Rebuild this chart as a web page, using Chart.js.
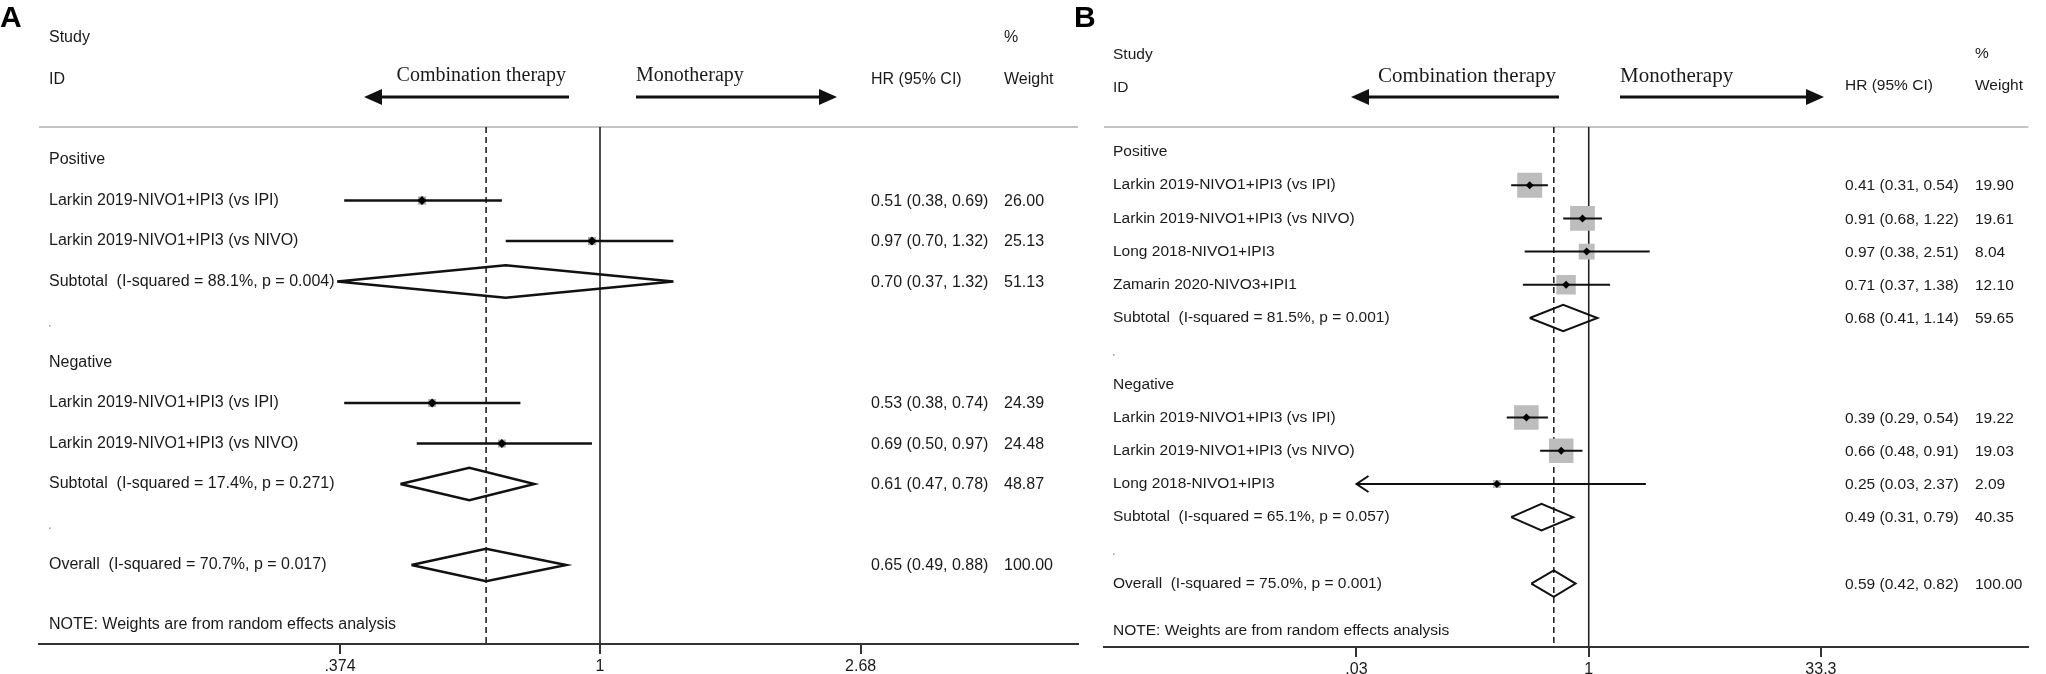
<!DOCTYPE html>
<html>
<head>
<meta charset="utf-8">
<script src="https://cdn.jsdelivr.net/npm/chart.js@4.4.1/dist/chart.umd.min.js"></script>
<style>
  html, body { margin: 0; padding: 0; background: #fff; }
  #wrap { position: relative; width: 2046px; height: 674px; overflow: hidden; }
  canvas { position: absolute; top: 0; }
</style>
</head>
<body>
<div id="wrap">
  <canvas id="chartA" width="1090" height="674" style="left:0px"></canvas>
  <canvas id="chartB" width="981" height="674" style="left:1065px"></canvas>
</div>
<script>
// ---- panel A data ----
var labelsA = ['Positive', 'Larkin 2019-NIVO1+IPI3 (vs IPI)', 'Larkin 2019-NIVO1+IPI3 (vs NIVO)',
  'Subtotal  (I-squared = 88.1%, p = 0.004)', '.', 'Negative', 'Larkin 2019-NIVO1+IPI3 (vs IPI)',
  'Larkin 2019-NIVO1+IPI3 (vs NIVO)', 'Subtotal  (I-squared = 17.4%, p = 0.271)', '.',
  'Overall  (I-squared = 70.7%, p = 0.017)'];
var kindA = ['group', 'study', 'study', 'sub', 'dot', 'group', 'study', 'study', 'sub', 'dot', 'overall'];
var hrA = [null, 0.51, 0.97, 0.70, null, null, 0.53, 0.69, 0.61, null, 0.65];
var lowA = [null, 0.38, 0.70, 0.37, null, null, 0.38, 0.50, 0.47, null, 0.49];
var highA = [null, 0.69, 1.32, 1.32, null, null, 0.74, 0.97, 0.78, null, 0.88];
var weightA = [null, 26.00, 25.13, 51.13, null, null, 24.39, 24.48, 48.87, null, 100.00];
var ticksA = [0.374, 1, 2.68];
var tickLabelsA = ['.374', '1', '2.68'];

// ---- panel B data ----
var labelsB = ['Positive', 'Larkin 2019-NIVO1+IPI3 (vs IPI)', 'Larkin 2019-NIVO1+IPI3 (vs NIVO)',
  'Long 2018-NIVO1+IPI3', 'Zamarin 2020-NIVO3+IPI1', 'Subtotal  (I-squared = 81.5%, p = 0.001)', '.',
  'Negative', 'Larkin 2019-NIVO1+IPI3 (vs IPI)', 'Larkin 2019-NIVO1+IPI3 (vs NIVO)',
  'Long 2018-NIVO1+IPI3', 'Subtotal  (I-squared = 65.1%, p = 0.057)', '.',
  'Overall  (I-squared = 75.0%, p = 0.001)'];
var kindB = ['group', 'study', 'study', 'study', 'study', 'sub', 'dot', 'group', 'study', 'study', 'study', 'sub', 'dot', 'overall'];
var hrB = [null, 0.41, 0.91, 0.97, 0.71, 0.68, null, null, 0.39, 0.66, 0.25, 0.49, null, 0.59];
var lowB = [null, 0.31, 0.68, 0.38, 0.37, 0.41, null, null, 0.29, 0.48, 0.03, 0.31, null, 0.42];
var highB = [null, 0.54, 1.22, 2.51, 1.38, 1.14, null, null, 0.54, 0.91, 2.37, 0.79, null, 0.82];
var weightB = [null, 19.90, 19.61, 8.04, 12.10, 59.65, null, null, 19.22, 19.03, 2.09, 40.35, null, 100.00];
var ticksB = [0.03, 1, 33.3];
var tickLabelsB = ['.03', '1', '33.3'];

var SANS = '"Liberation Sans", Arial, Helvetica, sans-serif';
var SERIF = '"Liberation Serif", "Times New Roman", serif';
var INK = '#1a1a1a';

function txt(ctx, s, x, y, font, align) {
  ctx.font = font;
  ctx.textAlign = align || 'left';
  ctx.textBaseline = 'middle';
  ctx.fillStyle = INK;
  ctx.fillText(s, x, y);
}

// header arrow, filled head at x2
function arrow(ctx, x1, x2, y) {
  var dir = x2 > x1 ? 1 : -1;
  ctx.save();
  ctx.strokeStyle = '#111';
  ctx.lineWidth = 3;
  ctx.beginPath();
  ctx.moveTo(x1, y);
  ctx.lineTo(x2 - dir * 14, y);
  ctx.stroke();
  ctx.fillStyle = '#111';
  ctx.beginPath();
  ctx.moveTo(x2, y);
  ctx.lineTo(x2 - dir * 18, y - 8);
  ctx.lineTo(x2 - dir * 18, y + 8);
  ctx.closePath();
  ctx.fill();
  ctx.restore();
}

function makeForest(id, p) {
  var n = p.labels.length;
  var overallEst = p.hr[p.kind.indexOf('overall')];
  var ds = [];

  // markers (top)
  var pts = [], boxes = [], boxR = [];
  for (var i = 0; i < n; i++) {
    if (p.kind[i] !== 'study') continue;
    pts.push({ x: p.hr[i], y: i });
    boxes.push({ x: p.hr[i], y: i });
    boxR.push(p.boxScale * Math.sqrt(p.weight[i]) / Math.SQRT2);
  }
  ds.push({ data: pts, showLine: false, pointStyle: 'rectRot', pointRadius: p.dotR,
    backgroundColor: '#000', borderColor: '#000', borderWidth: 0, order: 0 });

  // confidence intervals and diamonds
  for (var j = 0; j < n; j++) {
    if (p.kind[j] === 'study') {
      ds.push({ data: [{ x: p.low[j], y: j }, { x: p.high[j], y: j }], showLine: true,
        borderColor: '#111', borderWidth: p.ciW, pointRadius: 0, order: 1 });
    } else if (p.kind[j] === 'sub' || p.kind[j] === 'overall') {
      ds.push({ data: [{ x: p.low[j], y: j }, { x: p.hr[j], y: j - 0.4 }, { x: p.high[j], y: j },
        { x: p.hr[j], y: j + 0.4 }, { x: p.low[j], y: j }], showLine: true, fill: false,
        borderColor: '#111', borderWidth: p.diaW, pointRadius: 0, tension: 0, order: 1 });
    }
  }

  ds.push({ data: boxes, showLine: false, pointStyle: 'rect', pointRadius: boxR,
    backgroundColor: p.boxColor, borderWidth: 0, order: 2 });

  // reference lines
  ds.push({ data: [{ x: 1, y: p.yMin }, { x: 1, y: p.yMax }], showLine: true,
    borderColor: '#222', borderWidth: 1.6, pointRadius: 0, order: 3 });
  ds.push({ data: [{ x: overallEst, y: p.yMin }, { x: overallEst, y: p.yMax }], showLine: true,
    borderColor: '#222', borderWidth: 1.6, borderDash: [6, 4], pointRadius: 0, order: 3 });

  var L = p.lay;
  var plugin = {
    id: 'forestText',
    beforeDatasetsDraw: function (chart) {
      var ctx = chart.ctx, a = chart.chartArea;
      ctx.save();
      ctx.strokeStyle = '#c4c4c4';
      ctx.lineWidth = 2;
      ctx.beginPath();
      ctx.moveTo(a.left, a.top);
      ctx.lineTo(a.right, a.top);
      ctx.stroke();
      ctx.restore();
    },
    afterDraw: function (chart) {
      var ctx = chart.ctx, ys = chart.scales.y, xs = chart.scales.x;
      // panel letter
      ctx.font = 'bold 30px ' + SANS;
      ctx.textAlign = 'left';
      ctx.textBaseline = 'top';
      ctx.fillStyle = '#000';
      ctx.fillText(p.letter, L.letterX, 4);

      var hf = p.fontSize + 'px ' + SANS;
      txt(ctx, 'Study', L.labelX, L.studyY, hf);
      txt(ctx, 'ID', L.labelX, L.idY, hf);
      txt(ctx, '%', L.wX, L.pctY, hf);
      txt(ctx, 'Weight', L.wX, L.hdrY, hf);
      txt(ctx, 'HR (95% CI)', L.hrX, L.hdrY, hf);

      var sf = p.serifSize + 'px ' + SERIF;
      txt(ctx, 'Combination therapy', L.combR, L.serifY, sf, 'right');
      txt(ctx, 'Monotherapy', L.monoX, L.serifY, sf);
      arrow(ctx, L.combR + 3, L.leftTip, L.arrowY);
      arrow(ctx, L.monoX, L.rightTip, L.arrowY);

      for (var i = 0; i < n; i++) {
        var y = ys.getPixelForValue(i);
        if (p.kind[i] === 'dot') {
          ctx.fillStyle = '#999';
          ctx.fillRect(L.labelX, y + 3, 1.5, 1.5);
          continue;
        }
        txt(ctx, p.labels[i], L.labelX, y, hf);
        if (p.hr[i] !== null) {
          var s = p.hr[i].toFixed(2) + ' (' + p.low[i].toFixed(2) + ', ' + p.high[i].toFixed(2) + ')';
          var vf = p.valSize + 'px ' + SANS;
          txt(ctx, s, L.hrX, y + 1, vf);
          txt(ctx, p.weight[i].toFixed(2), L.wX, y + 1, vf);
        }
        // open arrow where the interval runs past the lowest tick
        if (p.kind[i] === 'study' && p.low[i] <= p.ticks[0]) {
          var ax = xs.getPixelForValue(p.low[i]);
          ctx.save();
          ctx.strokeStyle = '#111';
          ctx.lineWidth = 2;
          ctx.beginPath();
          ctx.moveTo(ax + 12, y - 8);
          ctx.lineTo(ax, y);
          ctx.lineTo(ax + 12, y + 8);
          ctx.stroke();
          ctx.restore();
        }
      }
      txt(ctx, 'NOTE: Weights are from random effects analysis', L.labelX, L.noteY, hf);
    }
  };

  return new Chart(document.getElementById(id), {
    type: 'scatter',
    data: { datasets: ds },
    options: {
      responsive: false,
      devicePixelRatio: 1,
      animation: false,
      layout: { padding: { left: p.padL, right: p.padR, top: 127, bottom: 0 } },
      plugins: { legend: { display: false }, tooltip: { enabled: false } },
      scales: {
        x: {
          type: 'logarithmic',
          position: 'bottom',
          min: p.xMin,
          max: p.xMax,
          afterBuildTicks: function (scale) {
            scale.ticks = p.ticks.map(function (v) { return { value: v }; });
          },
          afterFit: function (scale) { scale.height = p.axisH; },
          grid: { drawOnChartArea: false, drawTicks: true, tickLength: 10, color: '#333', lineWidth: 2 },
          border: { display: true, color: '#333', width: 2 },
          ticks: {
            autoSkip: false, maxRotation: 0, padding: 3, color: INK,
            font: { family: SANS, size: 16 },
            callback: function (v, i) { return p.tickLabels[i]; }
          }
        },
        y: { type: 'linear', reverse: true, min: p.yMin, max: p.yMax, display: false }
      }
    },
    plugins: [plugin]
  });
}

makeForest('chartA', {
  letter: 'A', labels: labelsA, kind: kindA, hr: hrA, low: lowA, high: highA, weight: weightA,
  ticks: ticksA, tickLabels: tickLabelsA,
  xMin: 0.1198, xMax: 6.098, yMin: -0.815, yMax: 11.95, padL: 39, padR: 12, axisH: 30,
  boxScale: 1.6, boxColor: '#a8a8a8', dotR: 4.5, ciW: 2.5, diaW: 2.5,
  fontSize: 16, valSize: 16, serifSize: 20,
  lay: { letterX: 0, labelX: 49, studyY: 38, idY: 80, hrX: 871, wX: 1004, pctY: 38, hdrY: 80,
    combR: 566, monoX: 636, serifY: 76, leftTip: 364, rightTip: 837, arrowY: 97, noteY: 625 }
});

makeForest('chartB', {
  letter: 'B', labels: labelsB, kind: kindB, hr: hrB, low: lowB, high: highB, weight: weightB,
  ticks: ticksB, tickLabels: tickLabelsB,
  xMin: 0.000663, xMax: 763, yMin: -0.753, yMax: 14.91, padL: 39, padR: 0, axisH: 27,
  boxScale: 5.6, boxColor: '#bdbdbd', dotR: 4, ciW: 2, diaW: 2,
  fontSize: 15.5, valSize: 15.5, serifSize: 21,
  lay: { letterX: 9, labelX: 48, studyY: 55, idY: 88, hrX: 780, wX: 910, pctY: 54, hdrY: 86,
    combR: 491, monoX: 555, serifY: 76, leftTip: 286, rightTip: 759, arrowY: 97, noteY: 631 }
});
</script>
</body>
</html>
